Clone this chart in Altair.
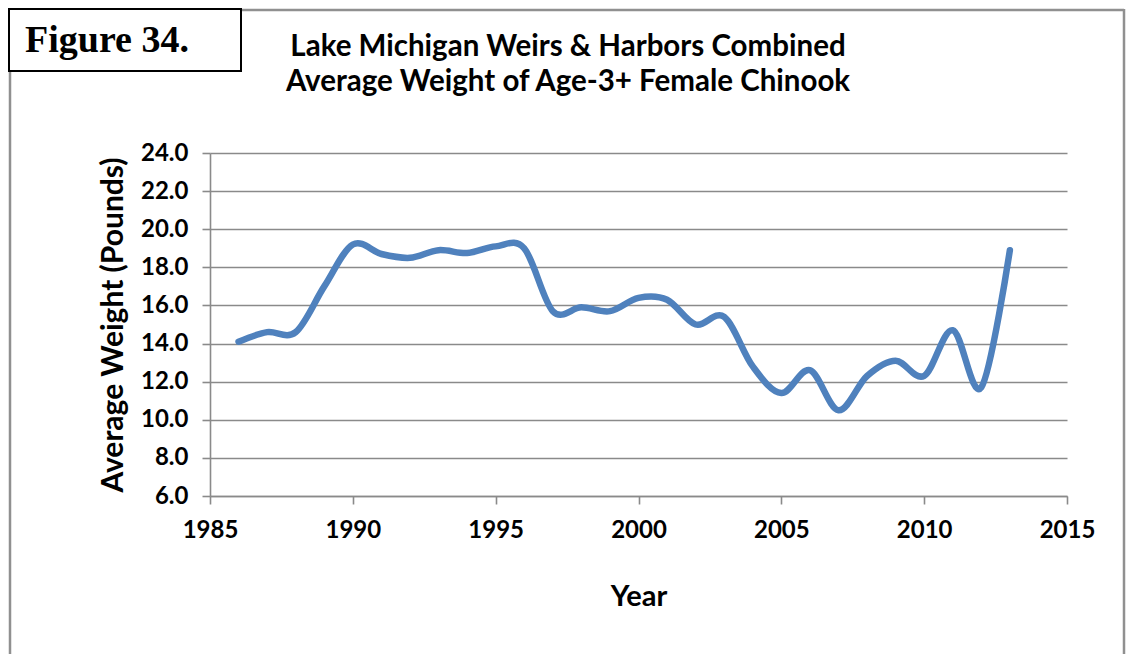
import altair as alt
import pandas as pd

# ---- data ----
years = list(range(1986, 2014))
weights = [14.1, 14.6, 14.6, 17.0, 19.2, 18.7, 18.5, 18.9, 18.75, 19.1,
           19.0, 15.7, 15.9, 15.7, 16.4, 16.3, 15.0, 15.4, 12.8, 11.4,
           12.6, 10.5, 12.3, 13.1, 12.3, 14.7, 11.7, 18.9]
x_ticks = [1985, 1990, 1995, 2000, 2005, 2010, 2015]
y_ticks = [6, 8, 10, 12, 14, 16, 18, 20, 22, 24]
title_lines = ["Lake Michigan Weirs & Harbors Combined",
               "Average Weight of Age-3+ Female Chinook"]
figure_label = "Figure 34."
x_title = "Year"
y_title = "Average Weight (Pounds)"

df = pd.DataFrame({"Year": years, "Weight": weights})
one = alt.Data(values=[{}])

W, H = 857, 343
PAD_L, PAD_T, PAD_R, PAD_B = 202, 145, 60, 158
GRID = "#8a8a8a"
FONT = "Lato"

line = alt.Chart(df).mark_line(
    color="#4F81BD", strokeWidth=6.5, interpolate="cardinal",
    strokeCap="round", strokeJoin="round"
).encode(
    x=alt.X("Year:Q",
            scale=alt.Scale(domain=[1985, 2015], nice=False, zero=False),
            axis=alt.Axis(values=x_ticks, format="d", title=x_title, grid=False,
                          tickSize=8, labelPadding=14, labelFlush=False,
                          titleX=W / 2, titleY=100, titleAlign="center",
                          titleBaseline="middle", titleFontSize=29)),
    y=alt.Y("Weight:Q",
            scale=alt.Scale(domain=[6, 24], nice=False, zero=False),
            axis=alt.Axis(values=y_ticks, format=".1f", title=y_title, grid=True,
                          tickSize=8, labelPadding=14, labelFlush=False,
                          titleX=-97, titleY=H / 2, titleAlign="center",
                          titleBaseline="middle", titleFontSize=30)),
)

# outer gray frame (left, top, right)
RIGHT = W + PAD_R - 3
frame_left = alt.Chart(one).mark_rule(color="#909090", strokeWidth=2.5).encode(
    x=alt.value(-200), y=alt.value(-144), y2=alt.value(H + PAD_B))
frame_top = alt.Chart(one).mark_rule(color="#909090", strokeWidth=2.5).encode(
    x=alt.value(-200), x2=alt.value(RIGHT), y=alt.value(-143))
frame_right = alt.Chart(one).mark_rule(color="#909090", strokeWidth=2.5).encode(
    x=alt.value(RIGHT), y=alt.value(-144), y2=alt.value(H + PAD_B))

fig_box = alt.Chart(one).mark_rect(fill="white", stroke="black", strokeWidth=2).encode(
    x=alt.value(-201), x2=alt.value(31), y=alt.value(-144), y2=alt.value(-82))
fig_text = alt.Chart(one).mark_text(
    font="Liberation Serif", fontWeight="bold", fontSize=38, align="left",
    baseline="alphabetic", color="black"
).encode(x=alt.value(-185), y=alt.value(-101), text=alt.value(figure_label))

t1 = alt.Chart(one).mark_text(
    font=FONT, fontWeight="bold", fontSize=29.5, align="center",
    baseline="alphabetic", color="black"
).encode(x=alt.value(358), y=alt.value(-97), text=alt.value(title_lines[0]))
t2 = alt.Chart(one).mark_text(
    font=FONT, fontWeight="bold", fontSize=29.5, align="center",
    baseline="alphabetic", color="black"
).encode(x=alt.value(358), y=alt.value(-62), text=alt.value(title_lines[1]))

chart = alt.layer(
    frame_left, frame_top, frame_right, line, fig_box, fig_text, t1, t2
).properties(
    width=W, height=H,
    autosize=alt.AutoSizeParams(type="none"),
    padding={"left": PAD_L, "top": PAD_T, "right": PAD_R, "bottom": PAD_B},
    background="white",
).configure_view(stroke=None).configure_axis(
    domainColor=GRID, domainWidth=1.6, tickColor=GRID, tickWidth=1.6,
    gridColor=GRID, gridWidth=1.6, gridOpacity=1,
    labelFont=FONT, labelFontWeight="bold", labelFontSize=24, labelColor="black",
    titleFont=FONT, titleFontWeight="bold", titleColor="black",
)

chart.save("out.html", embed_options={"renderer": "svg", "actions": False})
